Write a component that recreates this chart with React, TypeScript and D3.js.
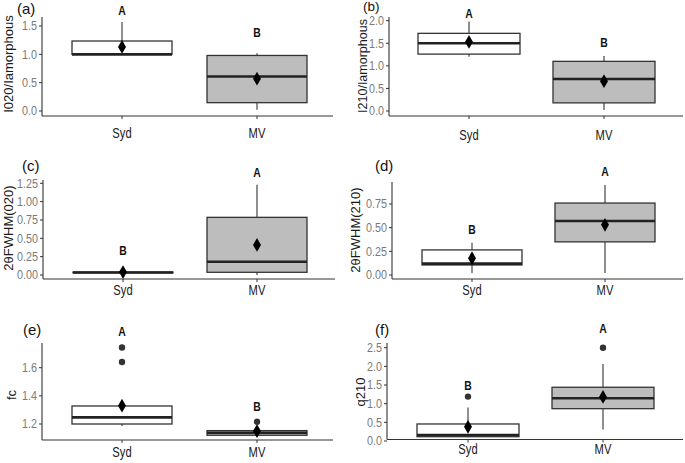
import React from "react";
import * as d3 from "d3";

const categories = ["Syd", "MV"];
const panelTags = ["(a)", "(b)", "(c)", "(d)", "(e)", "(f)"];
const yTitles = ["I020/Iamorphous", "I210/Iamorphous", "2θFWHM(020)", "2θFWHM(210)", "fc", "q210"];
const yTicks = [
  [0, 0.5, 1.0, 1.5],
  [0, 0.5, 1.0, 1.5, 2.0],
  [0, 0.25, 0.5, 0.75, 1.0, 1.25],
  [0, 0.25, 0.5, 0.75],
  [1.2, 1.4, 1.6],
  [0, 0.5, 1.0, 1.5, 2.0, 2.5],
];
const tickDecimals = [1, 1, 2, 2, 1, 1];

// [whiskerLow, q1, median, q3, whiskerHigh]
const sydBox = [
  [1.0, 1.0, 1.0, 1.235, 1.57],
  [1.2, 1.26, 1.5, 1.72, 1.98],
  [0.0, 0.03, 0.035, 0.04, 0.07],
  [0.02, 0.106, 0.12, 0.265, 0.34],
  [1.186, 1.2, 1.247, 1.328, 1.328],
  [0.1, 0.115, 0.16, 0.456, 0.9],
];
const mvBox = [
  [0.02, 0.147, 0.61, 0.98, 1.02],
  [0.02, 0.18, 0.71, 1.1, 1.22],
  [0.0, 0.037, 0.18, 0.786, 1.23],
  [0.02, 0.35, 0.57, 0.76, 0.95],
  [1.11, 1.12, 1.138, 1.153, 1.16],
  [0.31, 0.866, 1.145, 1.44, 2.06],
];
const sydMean = [1.13, 1.53, 0.04, 0.177, 1.33, 0.38];
const mvMean = [0.57, 0.66, 0.41, 0.53, 1.15, 1.18];
const sydOutliers = [[], [], [], [], [1.64, 1.744], [1.19]];
const mvOutliers = [[], [], [], [], [1.216], [2.5]];
const sydLetters = ["A", "A", "B", "B", "A", "B"];
const mvLetters = ["B", "B", "A", "A", "B", "A"];
const sydLetterY = [1.78, 2.18, 0.34, 0.487, 1.86, 1.5];
const mvLetterY = [1.4, 1.52, 1.41, 1.094, 1.328, 3.04];

const layout = [
  { x0: 42, x1: 333, axisY: 116, top: 17, yPx: [111, 26], cx: [122, 257], hw: 50, tagX: 17, tagY: 14, tagSize: 15, titleX: 8, titleY: 64, titleSize: 13, lblY: 134 },
  { x0: 389, x1: 683, axisY: 116, top: 17, yPx: [111, 20.7], cx: [469, 604], hw: 51, tagX: 363, tagY: 10.5, tagSize: 13.5, titleX: 363, titleY: 66, titleSize: 12.5, lblY: 136 },
  { x0: 43, x1: 335, axisY: 279, top: 180, yPx: [275, 183.3], cx: [123, 257], hw: 50, tagX: 22, tagY: 171, tagSize: 15, titleX: 8, titleY: 228, titleSize: 13, lblY: 291 },
  { x0: 392, x1: 683, axisY: 279, top: 182, yPx: [275, 204], cx: [472, 605], hw: 50, tagX: 375, tagY: 171, tagSize: 15, titleX: 355, titleY: 230, titleSize: 13, lblY: 291 },
  { x0: 42, x1: 333, axisY: 440, top: 343, yPx: [424, 367.7], cx: [122, 257], hw: 50, tagX: 23, tagY: 335, tagSize: 15, titleX: 11, titleY: 395, titleSize: 13, lblY: 453 },
  { x0: 387, x1: 683, axisY: 439.5, top: 343, yPx: [441, 347.7], cx: [468, 603], hw: 51, tagX: 375, tagY: 335, tagSize: 15, titleX: 360, titleY: 392, titleSize: 13, lblY: 450 },
];

const fills = ["#ffffff", "#bdbdbd"];
const sans = "'Liberation Sans', Arial, sans-serif";
const ink = "#333333";
const squeeze = 0.8;

function Narrow({ x, y, anchor, size, fill, bold, children }: any) {
  return (
    <g transform={`translate(${x},${y}) scale(${squeeze},1)`}>
      <text textAnchor={anchor} dominantBaseline="central" fontFamily={sans} fontSize={size} fontWeight={bold ? "bold" : "normal"} fill={fill}>
        {children}
      </text>
    </g>
  );
}

function Panel({ i }: { i: number }) {
  const L = layout[i];
  const ticks = yTicks[i];
  const y = d3.scaleLinear().domain([ticks[0], ticks[ticks.length - 1]]).range(L.yPx);
  const x = d3.scalePoint<string>().domain(categories).range(L.cx as [number, number]).padding(0);
  const fmt = d3.format(`.${tickDecimals[i]}f`);
  const groups = [
    { box: sydBox[i], mean: sydMean[i], out: sydOutliers[i], letter: sydLetters[i], ly: sydLetterY[i] },
    { box: mvBox[i], mean: mvMean[i], out: mvOutliers[i], letter: mvLetters[i], ly: mvLetterY[i] },
  ];
  const diamond = d3.symbol(d3.symbolDiamond, 55)();
  return (
    <g>
      {groups.map((g, k) => {
        const cx = x(categories[k]) as number;
        const [lo, q1, med, q3, hi] = g.box;
        return (
          <g key={k}>
            <line x1={cx} x2={cx} y1={y(hi)} y2={y(q3)} stroke={ink} strokeWidth={1.1} />
            <line x1={cx} x2={cx} y1={y(lo)} y2={y(q1)} stroke={ink} strokeWidth={1.1} />
            <rect x={cx - L.hw} width={L.hw * 2} y={y(q3)} height={Math.max(0.5, y(q1) - y(q3))} fill={fills[k]} stroke={ink} strokeWidth={1.3} />
            <line x1={cx - L.hw} x2={cx + L.hw} y1={y(med)} y2={y(med)} stroke="#222" strokeWidth={2.6} />
            {g.out.map((o, j) => (
              <circle key={j} cx={cx} cy={y(o)} r={3.2} fill={ink} />
            ))}
            <path d={diamond as string} transform={`translate(${cx},${y(g.mean)})`} fill="#000" />
            <Narrow x={cx} y={y(g.ly)} anchor="middle" size={13} fill="#111" bold>
              {g.letter}
            </Narrow>
            <line x1={cx} x2={cx} y1={L.axisY} y2={L.axisY + 3} stroke={ink} strokeWidth={1} />
            <Narrow x={cx} y={L.lblY} anchor="middle" size={14} fill="#1a1a1a">
              {categories[k]}
            </Narrow>
          </g>
        );
      })}
      <line x1={L.x0} x2={L.x0} y1={L.top} y2={L.axisY} stroke={ink} strokeWidth={1.1} />
      <line x1={L.x0} x2={L.x1} y1={L.axisY} y2={L.axisY} stroke={ink} strokeWidth={1.1} />
      {ticks.map((t, j) => (
        <g key={j}>
          <line x1={L.x0 - 3} x2={L.x0} y1={y(t)} y2={y(t)} stroke={ink} strokeWidth={1} />
          <Narrow x={L.x0 - 5} y={y(t)} anchor="end" size={13.5} fill="#7a7a7a">
            {fmt(t)}
          </Narrow>
        </g>
      ))}
      <text
        transform={`translate(${L.titleX},${L.titleY}) rotate(-90)`}
        textAnchor="middle"
        dominantBaseline="central"
        fontFamily={sans}
        fontSize={L.titleSize}
        fill="#1a1a1a"
      >
        {yTitles[i]}
      </text>
      <text x={L.tagX} y={L.tagY} fontFamily={sans} fontSize={L.tagSize} fill="#111">
        {panelTags[i]}
      </text>
    </g>
  );
}

export default function App() {
  return (
    <svg width={685} height={463} style={{ position: "absolute", left: 0, top: 0, background: "#fff" }}>
      <rect width={685} height={463} fill="#fff" />
      {layout.map((_, i) => (
        <Panel key={i} i={i} />
      ))}
    </svg>
  );
}
